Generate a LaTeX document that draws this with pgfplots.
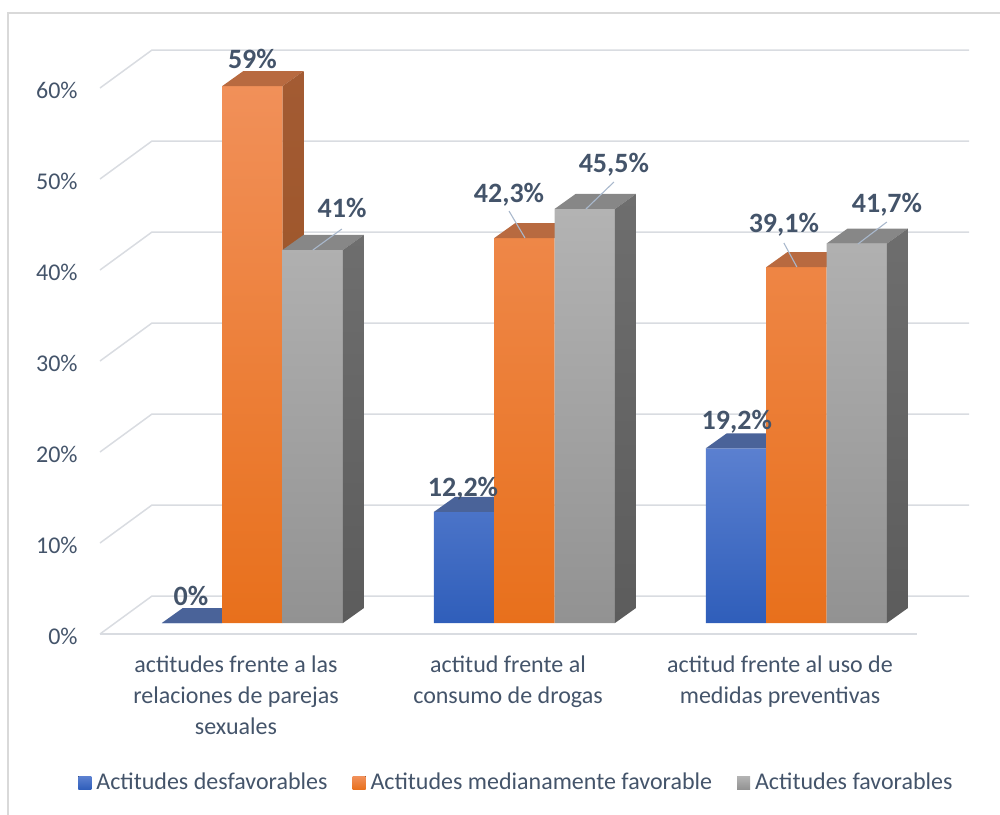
\documentclass[border=0pt]{standalone}
\usepackage{fontspec}
\setmainfont{Carlito}
\usepackage{pgfplots}
\usepackage{pgfplotstable}
\pgfplotsset{compat=1.18}
\definecolor{txt}{HTML}{44546A}
\definecolor{gridc}{HTML}{D9DCE1}
\definecolor{framec}{HTML}{D9D9D9}
\definecolor{leadc}{HTML}{A9B8CC}
\definecolor{bluetop}{HTML}{5B80D0}
\definecolor{bluebot}{HTML}{2F5EBA}
\definecolor{bluecap}{HTML}{4A6399}
\definecolor{orgtop}{HTML}{F19059}
\definecolor{orgbot}{HTML}{E8701C}
\definecolor{orgcap}{HTML}{B86A40}
\definecolor{orgsidet}{HTML}{A35B33}
\definecolor{orgsideb}{HTML}{97501F}
\definecolor{graytop}{HTML}{B3B3B3}
\definecolor{graybot}{HTML}{929292}
\definecolor{graycap}{HTML}{878787}
\definecolor{graysidet}{HTML}{6E6E6E}
\definecolor{graysideb}{HTML}{5C5C5C}

\pgfplotstableread{
x v
0 0
1 12.2
2 19.2
}\tblue
\pgfplotstableread{
x v
0 59
1 42.3
2 39.1
}\torange
\pgfplotstableread{
x v
0 41
1 45.5
2 41.7
}\tgray

\begin{document}
\begin{tikzpicture}
\begin{axis}[
  at={(58.2pt,95.5pt)}, anchor=south west,
  scale only axis, width=408pt, height=273pt,
  xmin=-0.5, xmax=2.5, ymin=0, ymax=60,
  clip=false,
  axis line style={draw=none}, tick style={draw=none},
  xtick={0,1,2},
  xticklabels={{actitudes frente a las\\relaciones de parejas\\sexuales},{actitud frente al\\consumo de drogas},{actitud frente al uso de\\medidas preventivas}},
  xticklabel style={align=center, anchor=north, inner sep=0pt, xshift=-8.2pt, yshift=-16pt, font=\fontsize{12}{15.5}\selectfont, text=txt},
  ytick={0,10,...,60},
  yticklabel={\pgfmathprintnumber{\tick}\%},
  yticklabel style={anchor=east, inner sep=0pt, xshift=-19.2pt, yshift=-6.5pt, font=\fontsize{12}{14}\selectfont, text=txt},
  /pgf/number format/assume math mode=true,
  legend columns=3,
  legend style={at={(-0.0471,-0.293)}, anchor=west, draw=none, fill=none, inner sep=0pt,
    font=\fontsize{12}{14}\selectfont, text=txt,
    nodes={inner sep=0pt},
    /tikz/every odd column/.append style={column sep=2.5pt},
    /tikz/every even column/.append style={column sep=12.5pt}},
]
% grid: left wall slants + back wall lines
\pgfplotsinvokeforeach{0,10,20,30,40,50,60}{
  \addplot[gridc, line width=0.75pt, forget plot] coordinates {(-0.5603,#1-1.209) (-0.3691,#1+2.967) (2.6346,#1+2.967)};
}
\addplot[gridc, line width=0.75pt, forget plot] coordinates {(-0.5603,-1.209) (2.4434,-1.209)};

% blue series
\addplot[ybar, bar width=0.222, bar shift=-0.222, draw=none, top color=bluetop, bottom color=bluebot,
  legend image code/.code={\fill[top color=bluetop,bottom color=bluebot] (0pt,-3.25pt) rectangle (6.5pt,3.25pt);}]
  table[x=x,y=v]{\tblue};
\addlegendentry{Actitudes desfavorables}
\addplot[fill=bluecap, draw=none, forget plot] coordinates {(-0.333,0) (-0.111,0) (-0.0338,1.648) (-0.2558,1.648)} -- cycle;
\addplot[fill=bluecap, draw=none, forget plot] coordinates {(0.667,12.2) (0.889,12.2) (0.9662,13.848) (0.7442,13.848)} -- cycle;
\addplot[fill=bluecap, draw=none, forget plot] coordinates {(1.667,19.2) (1.889,19.2) (1.9662,20.848) (1.7442,20.848)} -- cycle;

% orange series
\addplot[ybar, bar width=0.222, bar shift=0, draw=none, top color=orgtop, bottom color=orgbot,
  legend image code/.code={\fill[top color=orgtop,bottom color=orgbot] (0pt,-3.25pt) rectangle (6.5pt,3.25pt);}]
  table[x=x,y=v]{\torange};
\addlegendentry{Actitudes medianamente favorable}
\addplot[fill=orgcap, draw=none, forget plot] coordinates {(-0.111,59) (0.111,59) (0.1882,60.648) (-0.0338,60.648)} -- cycle;
\addplot[top color=orgsidet, bottom color=orgsideb, draw=none, forget plot] coordinates {(0.111,0) (0.111,59) (0.1882,60.648) (0.1882,1.648)} -- cycle;
\addplot[fill=orgcap, draw=none, forget plot] coordinates {(0.889,42.3) (1.111,42.3) (1.1882,43.948) (0.9662,43.948)} -- cycle;
\addplot[fill=orgcap, draw=none, forget plot] coordinates {(1.889,39.1) (2.111,39.1) (2.1882,40.748) (1.9662,40.748)} -- cycle;

% gray series
\addplot[ybar, bar width=0.222, bar shift=0.222, draw=none, top color=graytop, bottom color=graybot,
  legend image code/.code={\fill[top color=graytop,bottom color=graybot] (0pt,-3.25pt) rectangle (6.5pt,3.25pt);}]
  table[x=x,y=v]{\tgray};
\addlegendentry{Actitudes favorables}
\addplot[fill=graycap, draw=none, forget plot] coordinates {(0.111,41) (0.333,41) (0.4102,42.648) (0.1882,42.648)} -- cycle;
\addplot[top color=graysidet, bottom color=graysideb, draw=none, forget plot] coordinates {(0.333,0) (0.333,41) (0.4102,42.648) (0.4102,1.648)} -- cycle;
\addplot[fill=graycap, draw=none, forget plot] coordinates {(1.111,45.5) (1.333,45.5) (1.4102,47.148) (1.1882,47.148)} -- cycle;
\addplot[top color=graysidet, bottom color=graysideb, draw=none, forget plot] coordinates {(1.333,0) (1.333,45.5) (1.4102,47.148) (1.4102,1.648)} -- cycle;
\addplot[fill=graycap, draw=none, forget plot] coordinates {(2.111,41.7) (2.333,41.7) (2.4102,43.348) (2.1882,43.348)} -- cycle;
\addplot[top color=graysidet, bottom color=graysideb, draw=none, forget plot] coordinates {(2.333,0) (2.333,41.7) (2.4102,43.348) (2.4102,1.648)} -- cycle;

% leader lines
\draw[leadc, line width=0.55pt] (axis cs:0.2224,40.99) -- (axis cs:0.3290,43.30);
\draw[leadc, line width=0.55pt] (axis cs:0.9434,45.27) -- (axis cs:1.0022,42.31);
\draw[leadc, line width=0.55pt] (axis cs:1.3290,48.46) -- (axis cs:1.2261,45.49);
\draw[leadc, line width=0.55pt] (axis cs:1.9540,41.76) -- (axis cs:2.0018,39.12);
\draw[leadc, line width=0.55pt] (axis cs:2.3327,44.07) -- (axis cs:2.2261,41.65);

% data labels
\tikzset{dl/.style={anchor=base, inner sep=0pt, text=txt, font=\fontsize{14}{16}\selectfont\bfseries}}
\node[dl] at (axis cs:-0.2257,1.978) {0\%};
\node[dl] at (axis cs:0.0,60.99) {59\%};
\node[dl] at (axis cs:0.3298,44.51) {41\%};
\node[dl] at (axis cs:0.7743,13.85) {12,2\%};
\node[dl] at (axis cs:0.9434,46.26) {42,3\%};
\node[dl] at (axis cs:1.329,49.56) {45,5\%};
\node[dl] at (axis cs:1.781,21.21) {19,2\%};
\node[dl] at (axis cs:1.954,42.86) {39,1\%};
\node[dl] at (axis cs:2.333,45.16) {41,7\%};
\end{axis}
\draw[framec, line width=0.6pt] (4pt,-5pt) -- (4pt,400.5pt) -- (510pt,400.5pt);
\pgfresetboundingbox
\path[use as bounding box] (0,0) rectangle (500pt,407pt);
\end{tikzpicture}
\end{document}
